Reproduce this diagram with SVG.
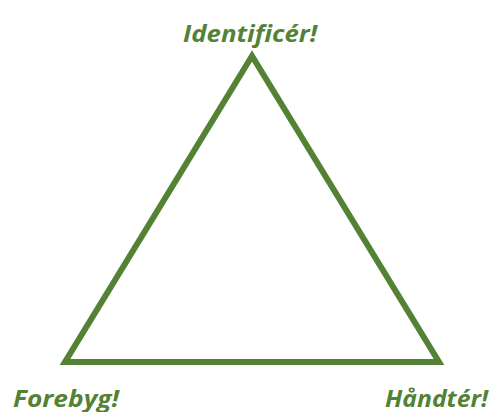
<svg xmlns="http://www.w3.org/2000/svg" width="492" height="412" viewBox="0 0 492 412">
<style>
.lbl{font-family:"Open Sans","Liberation Sans",sans-serif;font-weight:bold;font-style:italic;font-size:24px;fill:#548235}
</style>
<rect width="492" height="412" fill="#fff"/>
<g id="connectors">
<polygon points="252,56 65,362 439,362" fill="none" stroke="#548235" stroke-width="6" stroke-linejoin="miter"/>
</g>
<g id="identificer"><text class="lbl" x="250" y="42" text-anchor="middle" textLength="134" lengthAdjust="spacingAndGlyphs">Identificér!</text></g>
<g id="forebyg"><text class="lbl" x="13" y="407" textLength="106" lengthAdjust="spacingAndGlyphs">Forebyg!</text></g>
<g id="handter"><text class="lbl" x="385" y="407" textLength="103" lengthAdjust="spacingAndGlyphs">Håndtér!</text></g>
</svg>
